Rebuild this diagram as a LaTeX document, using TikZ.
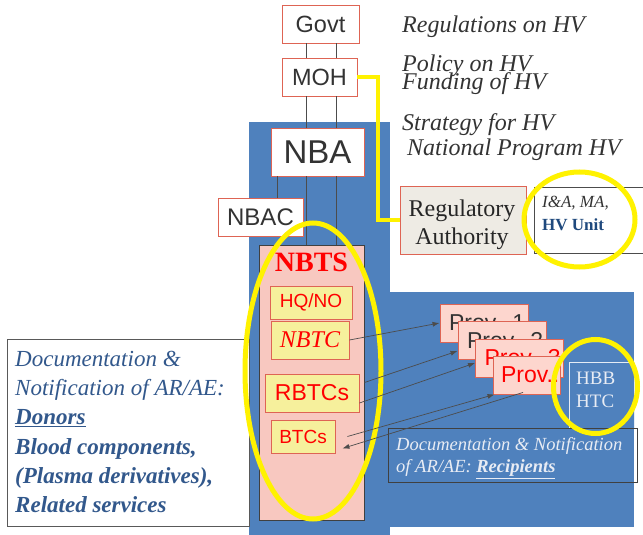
\documentclass[tikz,border=0pt]{standalone}
\usepackage{fontspec}
\setmainfont{Liberation Serif}
\setsansfont{Liberation Sans}
\usetikzlibrary{arrows.meta,positioning}

\definecolor{slideblue}{RGB}{79,129,189}
\definecolor{boxred}{RGB}{222,100,84}
\definecolor{nbtspink}{RGB}{248,200,192}
\definecolor{provpink}{RGB}{253,214,206}
\definecolor{unityellow}{RGB}{246,240,156}
\definecolor{regbeige}{RGB}{238,235,228}
\definecolor{textgray}{RGB}{51,51,51}
\definecolor{noteblue}{RGB}{50,88,140}
\definecolor{hvblue}{RGB}{31,73,125}
\definecolor{paleblue}{RGB}{232,236,244}

\begin{document}
\begin{tikzpicture}[x=1pt, y=-1pt,
orgbox/.style={draw=boxred, fill=white, line width=0.9pt, text=textgray, inner sep=0pt, font=\sffamily\fontsize{23.5}{28}\selectfont},
unitbox/.style={draw=boxred, fill=unityellow, line width=0.9pt, text=red, inner sep=0pt},
provbox/.style={draw=boxred, fill=provpink, line width=0.9pt, inner ysep=0pt, inner xsep=9pt, text width=70pt, align=left, minimum height=38pt, font=\sffamily\fontsize{23}{27}\selectfont},
notebox/.style={draw=#1, line width=0.8pt, inner sep=0pt},
orgline/.style={draw=black!70, line width=0.7pt},
ring/.style={draw=yellow, line width=5pt},
italicnote/.style={anchor=base west, inner sep=0pt, text=textgray, font=\itshape\fontsize{24}{28}\selectfont},
>={Latex[length=7pt, width=5pt]}
]
    \fill[white] (0,0) rectangle (643,535);
    \useasboundingbox (0,0) rectangle (643,535);
    \fill[slideblue] (249,122) rectangle (390,535);
    \fill[slideblue] (390,292) rectangle (634,527);

    \coordinate (laneA) at (306,0);
    \coordinate (laneB) at (336,0);
    \coordinate (laneC) at (277,0);

    \node[notebox=black!65, fill=white, minimum width=242pt, minimum height=187pt, anchor=north west] (donorbox) at (7,339) {};
    \node[anchor=north west, inner sep=0pt, align=left, text=noteblue, font=\itshape\fontsize{23}{29.4}\selectfont] (donortxt) at (15,350.5)
        {Documentation \&\\Notification of AR/AE:\\\textbf{\underline{Donors}}\\\textbf{Blood components,}\\\textbf{(Plasma derivatives),}\\\textbf{Related services}};

    \node[orgbox, minimum width=77pt, minimum height=38pt] (govt) at (320.5,24) {Govt};
    \node[orgbox, minimum width=75pt, minimum height=38pt] (moh) at (319.5,77) {MOH};
    \node[orgbox, minimum width=93pt, minimum height=48pt, font=\sffamily\fontsize{33}{38}\selectfont] (nba) at (317.5,152) {NBA};
    \node[orgbox, minimum width=85pt, minimum height=38pt, font=\sffamily\fontsize{24}{28}\selectfont] (nbac) at (260.5,217) {NBAC};

    \node[draw=black!75, fill=nbtspink, line width=0.9pt, minimum width=105pt, minimum height=275pt, inner sep=0pt] (nbts) at (311.5,382.5) {};
    \node[text=red, inner sep=0pt, font=\bfseries\fontsize{28}{32}\selectfont] (nbtstitle) at (311.5,262) {NBTS};
    \node[unitbox, minimum width=82pt, minimum height=33pt, font=\sffamily\fontsize{19}{22}\selectfont] (hqno) at (311,302.5) {HQ/NO};
    \node[unitbox, minimum width=78pt, minimum height=38pt, font=\itshape\fontsize{24}{28}\selectfont] (nbtc) at (310,340) {NBTC};
    \node[unitbox, minimum width=94pt, minimum height=38pt, font=\sffamily\fontsize{23}{27}\selectfont] (rbtcs) at (312,393) {RBTCs};
    \node[unitbox, minimum width=64pt, minimum height=33pt, font=\sffamily\fontsize{19}{22}\selectfont] (btcs) at (303,436.5) {BTCs};

    \foreach \lane in {laneA, laneB} {
        \draw[orgline] (govt.south -| \lane) -- (moh.north -| \lane);
        \draw[orgline] (moh.south -| \lane) -- (nba.north -| \lane);
        \draw[orgline] (nba.south -| \lane) -- (nbts.north -| \lane);
    }
    \draw[orgline] (nba.south -| laneC) -- (nbac.north -| laneC);

    \node[draw=boxred, fill=regbeige, line width=0.9pt, minimum width=126pt, minimum height=68pt, inner sep=0pt] (reg) at (463,220) {};
    \node[inner sep=0pt, align=center, text=black!85, font=\fontsize{24}{28}\selectfont] (regtxt) at (462,224.4) {Regulatory\\Authority};

    \node[notebox=black!70, fill=white, minimum width=120pt, minimum height=66pt, anchor=north west] (hvbox) at (534,187) {};
    \node[anchor=north west, inner sep=0pt, align=left, text=textgray, font=\fontsize{17}{23}\selectfont] (hvtxt) at (542,195.5)
        {\textit{I\&A, MA,}\\\textcolor{hvblue}{\textbf{HV Unit}}};

    \node[italicnote] (regnote) at (402,33) {Regulations on HV};
    \node[italicnote] (polnote) at (402,72) {Policy on HV};
    \node[italicnote] (fundnote) at (402,90) {Funding of HV};
    \node[italicnote] (stratnote) at (402,130) {Strategy for HV};
    \node[italicnote] (prognote) at (407,155) {National Program HV};

    \node[provbox, text=textgray] (prov1) at (484,323) {\mbox{Prov. 1}};
    \node[provbox, text=textgray] (prov2) at (502,340.5) {\mbox{Prov. 2}};
    \node[provbox, text=red] (prov3) at (519.5,358) {\mbox{Prov. 3}};
    \node[provbox, text=red, text width=51pt, inner xsep=8pt] (provn) at (526.5,375) {\mbox{Prov..}};

    \node[draw=white!85!slideblue, line width=0.8pt, fill=slideblue, minimum width=65pt, minimum height=66pt, inner sep=0pt, anchor=north west] (hbb) at (569,362) {};
    \node[anchor=north west, inner sep=0pt, align=left, text=paleblue, font=\fontsize{19}{23}\selectfont] (hbbtxt) at (576,371.4) {HBB\\HTC};

    \node[notebox=black!75, minimum width=249pt, minimum height=54pt, anchor=north west] (recipbox) at (388,428) {};
    \node[anchor=north west, inner sep=0pt, align=left, text=paleblue, font=\itshape\fontsize{18.5}{22}\selectfont] (reciptxt) at (396,437.5)
        {Documentation \& Notification\\of AR/AE: \textbf{\underline{Recipients}}};

    \draw[ring, line width=4pt] (moh.east) -- ++(21,0) |- (reg.west);
    \draw[ring] (313,371) ellipse [x radius=68pt, y radius=148pt];
    \draw[ring] (579.5,219.5) ellipse [x radius=55.5pt, y radius=47.5pt];
    \draw[ring] (595.5,386.5) ellipse [x radius=42pt, y radius=47pt];

    \draw[->, orgline] (nbtc.east) -- (prov1.west);
    \draw[->, orgline] (nbts.east) -- ([yshift=-10.5pt]prov2.west);
    \draw[->, orgline] ([yshift=-10pt]rbtcs.east) -- ([yshift=-5pt]prov3.west);
    \draw[->, orgline] ([xshift=12pt]btcs.east) -- ([xshift=2pt]provn.south west);
    \draw[->, orgline] ([xshift=-3.5pt, yshift=2pt]provn.south) -- ([xshift=7pt, yshift=5pt]btcs.south east);
\end{tikzpicture}
\end{document}
